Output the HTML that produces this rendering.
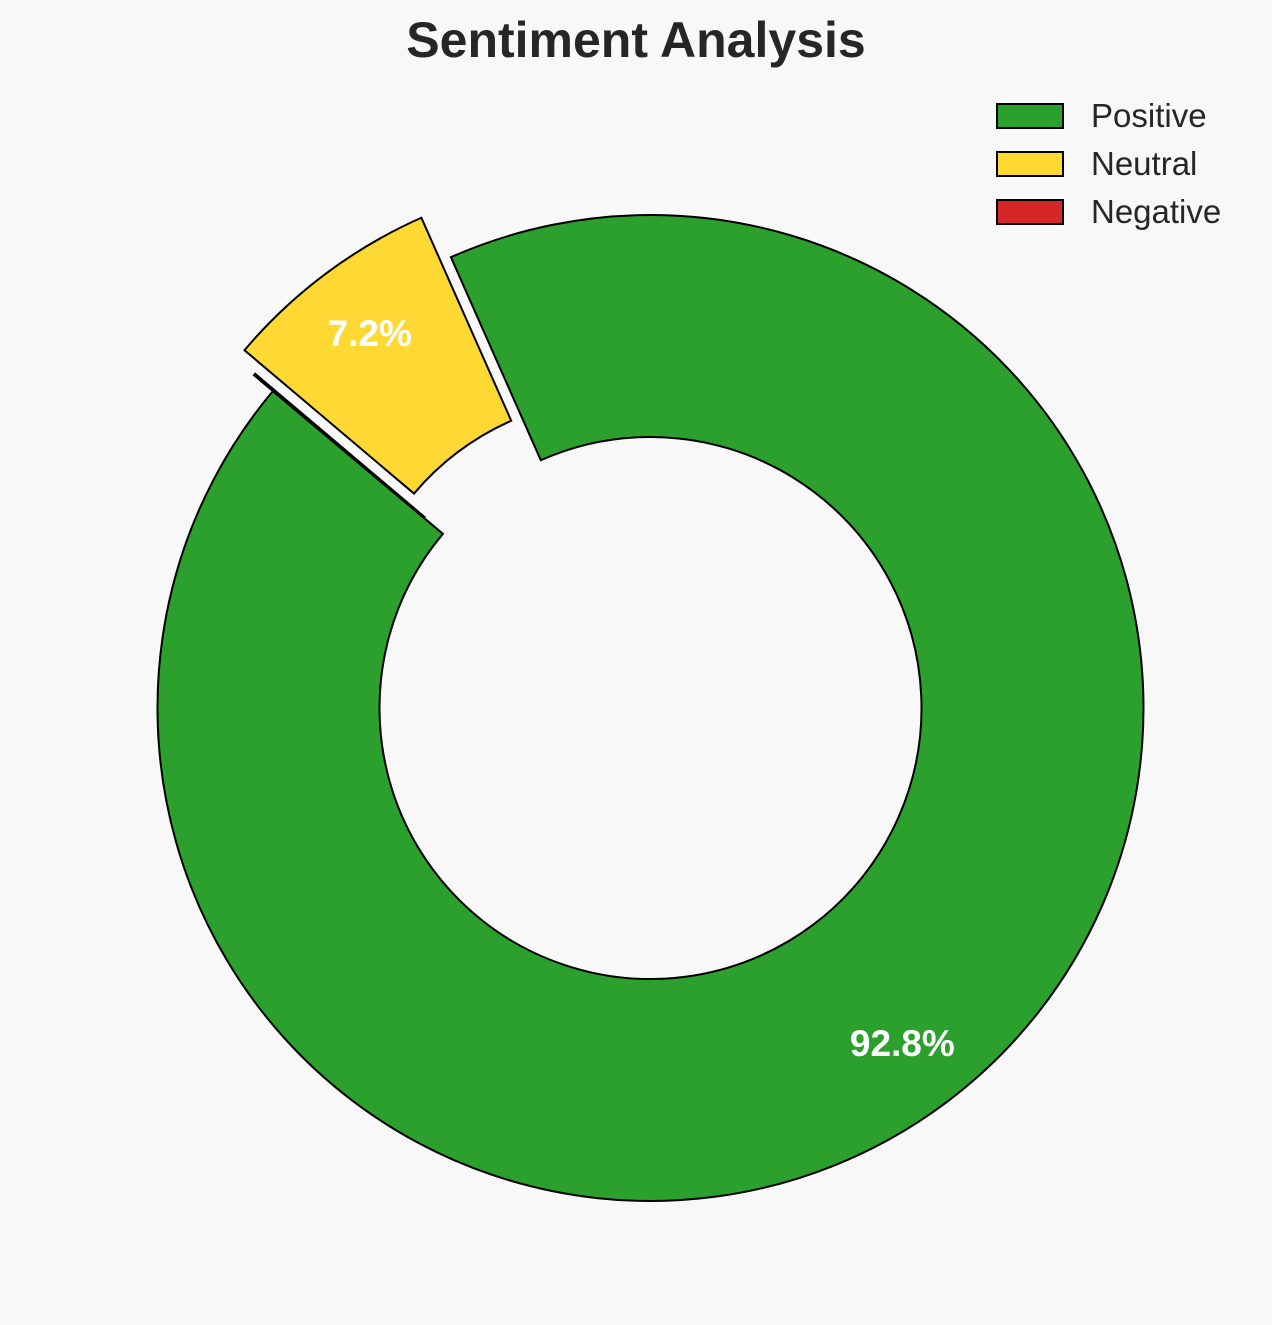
<!DOCTYPE html>
<html><head><meta charset="utf-8"><style>
html,body{margin:0;padding:0;background:#f8f8f8;}
svg{display:block;font-family:"Liberation Sans",Arial,sans-serif;}
</style></head><body>
<svg id="chart" width="1272" height="1325" viewBox="0 0 1272 1325">
<rect width="1272" height="1325" fill="#f8f8f8"/>
<text x="636" y="57" text-anchor="middle" font-size="50" font-weight="bold" fill="#262626">Sentiment Analysis</text>
<g id="slices"></g>
<g id="legend"></g>
</svg>
<script>
const categories = ["Positive", "Neutral", "Negative"];
const values = [92.8, 7.2, 0.06];
const colors = ["#2ca02c", "#ffd933", "#d62728"];
const explode = [0, 0.1, 0.05];
const labels = ["92.8%", "7.2%", ""];

const cx = 650.5, cy = 708, R = 493, r = 271, startAngle = 140;
const NS = "http://www.w3.org/2000/svg";
const g = document.getElementById("slices");
const total = values.reduce((a,b)=>a+b,0);
function pt(ox, oy, rad, deg){ const a = deg*Math.PI/180; return [ox + rad*Math.cos(a), oy - rad*Math.sin(a)]; }
let ang = startAngle;
values.forEach((v,i)=>{
  const sweep = v/total*360;
  const a0 = ang, a1 = ang + sweep, mid = (a0+a1)/2;
  const [ox, oy] = pt(cx, cy, explode[i]*R, mid);
  const p1 = pt(ox,oy,R,a0), p2 = pt(ox,oy,R,a1), p3 = pt(ox,oy,r,a1), p4 = pt(ox,oy,r,a0);
  const large = sweep > 180 ? 1 : 0;
  const d = `M${p1[0]},${p1[1]} A${R},${R} 0 ${large} 0 ${p2[0]},${p2[1]} L${p3[0]},${p3[1]} A${r},${r} 0 ${large} 1 ${p4[0]},${p4[1]} Z`;
  const path = document.createElementNS(NS, "path");
  path.setAttribute("d", d);
  path.setAttribute("fill", colors[i]);
  path.setAttribute("stroke", "#000");
  path.setAttribute("stroke-width", "2");
  
  
  g.appendChild(path);
  if (labels[i]) {
    const [lx, ly] = pt(ox, oy, R*0.85, mid);
    const t = document.createElementNS(NS, "text");
    t.setAttribute("x", lx); t.setAttribute("y", ly + 13);
    t.setAttribute("text-anchor", "middle");
    t.setAttribute("font-size", "37"); t.setAttribute("font-weight", "bold");
    t.setAttribute("fill", "#fff");
    t.textContent = labels[i];
    
    
    g.appendChild(t);
  }
  ang = a1;
});
const lg = document.getElementById("legend");
categories.forEach((c,i)=>{
  const y = 104 + i*48;
  const rect = document.createElementNS(NS, "rect");
  rect.setAttribute("x", 997); rect.setAttribute("y", y);
  rect.setAttribute("width", 66); rect.setAttribute("height", 24);
  rect.setAttribute("fill", colors[i]); rect.setAttribute("stroke", "#000"); rect.setAttribute("stroke-width", "2");
  
  
  lg.appendChild(rect);
  const t = document.createElementNS(NS, "text");
  t.setAttribute("x", 1091); t.setAttribute("y", y + 23);
  t.setAttribute("font-size", "33"); t.setAttribute("fill", "#262626");
  t.textContent = c;
  
  
  lg.appendChild(t);
});
</script>
</body></html>
